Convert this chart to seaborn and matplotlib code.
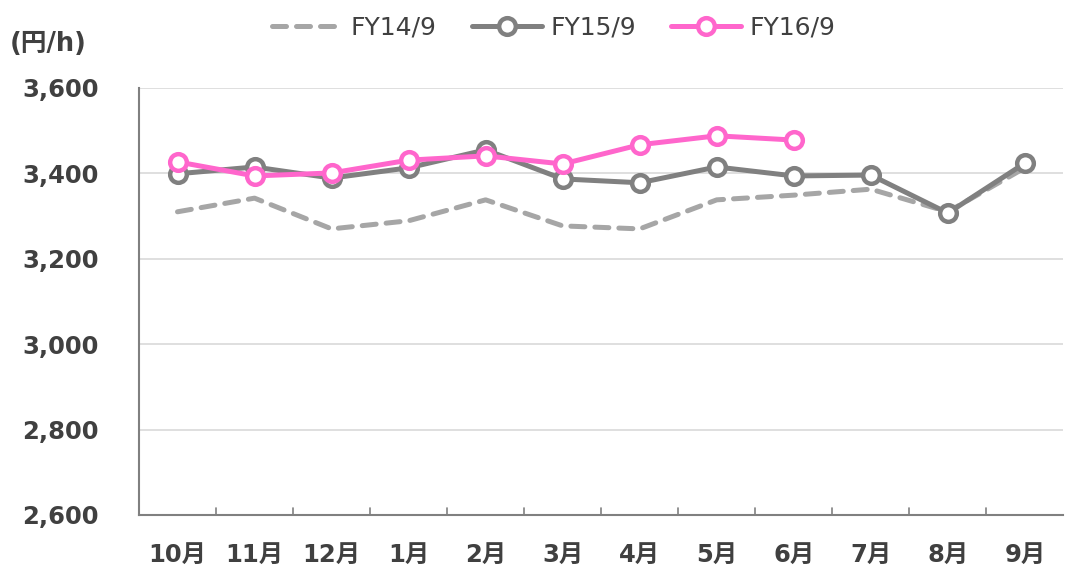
import pandas as pd
import matplotlib.pyplot as plt
import seaborn as sns

months = ['10月', '11月', '12月', '1月', '2月', '3月', '4月', '5月', '6月', '7月', '8月', '9月']
fy14 = [3310, 3342, 3270, 3289, 3338, 3277, 3270, 3338, 3349, 3363, 3310, 3413]
fy15 = [3399, 3415, 3389, 3413, 3455, 3387, 3378, 3415, 3394, 3396, 3307, 3424]
fy16 = [3427, 3394, 3401, 3431, 3441, 3422, 3467, 3488, 3478]
yticks = [2600, 2800, 3000, 3200, 3400, 3600]

sns.set_style('white')
plt.rcParams['font.family'] = ['DejaVu Sans', 'Noto Sans CJK JP']

fig = plt.figure(figsize=(10.65, 5.72), dpi=100)
ax = fig.add_axes([0.1305, 0.0997, 0.868, 0.7465])

x = list(range(len(months)))
df14 = pd.DataFrame({'x': x, 'y': fy14})
df15 = pd.DataFrame({'x': x, 'y': fy15})
df16 = pd.DataFrame({'x': x[:len(fy16)], 'y': fy16})

sns.lineplot(data=df14, x='x', y='y', ax=ax, color='#a6a6a6', lw=3.6,
             label='FY14/9', zorder=2)
ax.lines[-1].set_dashes((2.8, 2.0))
ax.lines[-1].set_dash_capstyle('round')
sns.lineplot(data=df15, x='x', y='y', ax=ax, color='#808080', lw=3.6,
             marker='o', markersize=12, markerfacecolor='white',
             markeredgecolor='#808080', markeredgewidth=3.2, label='FY15/9', zorder=3)
sns.lineplot(data=df16, x='x', y='y', ax=ax, color='#ff66cc', lw=3.6,
             marker='o', markersize=12, markerfacecolor='white',
             markeredgecolor='#ff66cc', markeredgewidth=3.2, label='FY16/9', zorder=4)

ax.set_xlim(-0.5, len(months) - 0.5)
ax.set_ylim(2600, 3600)
ax.set_yticks(yticks)
ax.set_yticklabels([f'{v:,}' for v in yticks], fontsize=17.5, fontweight='bold', color='#404040')
ax.set_xticks(x)
ax.set_xticklabels(months, fontsize=17.5, fontweight='bold', color='#404040')
ax.tick_params(axis='x', length=0, pad=20)
ax.tick_params(axis='y', length=7, width=1.2, color='#808080', pad=22)
ax.set_xlabel('')
ax.set_ylabel('')

# category boundary ticks
for b in range(1, len(months)):
    ax.plot([b - 0.5, b - 0.5], [2600, 2617], color='#808080', lw=1.2, clip_on=False, zorder=1)

ax.grid(axis='y', color='#d9d9d9', lw=1.2)
for s in ['top', 'right']:
    ax.spines[s].set_visible(False)
for s in ['left', 'bottom']:
    ax.spines[s].set_color('#808080')
    ax.spines[s].set_linewidth(1.5)

fig.text(0.009, 0.91, '(円/h)', fontsize=18.5, fontweight='bold', color='#404040')

ax.legend_.remove()
h, l = ax.get_legend_handles_labels()
fig.legend(h, l, loc='upper center', bbox_to_anchor=(0.52, 1.012), ncol=3, frameon=False,
           fontsize=18, handlelength=2.8, columnspacing=1.4, handletextpad=0.35,
           labelcolor='#404040')

fig.savefig('out.png', dpi=100)
